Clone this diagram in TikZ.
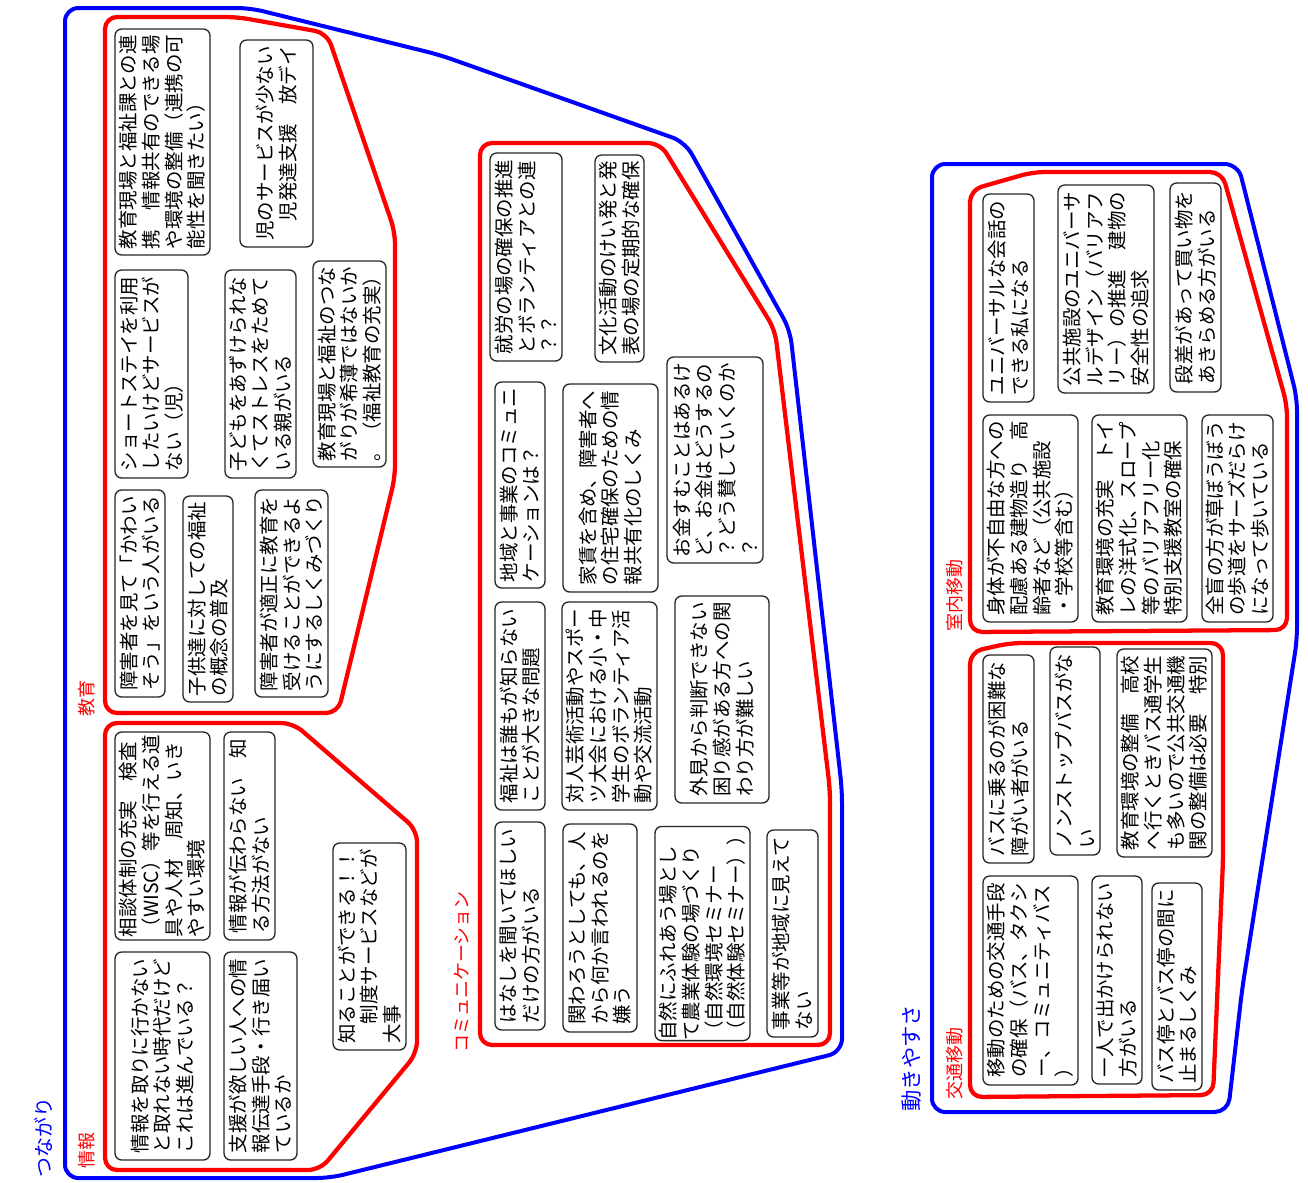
\documentclass[tikz,border=0pt]{standalone}
\usepackage{fontspec}
\newfontfamily\jp{Noto Sans CJK JP}
\tikzset{
  jb/.style={draw=black!85, line width=1pt, rounded corners=5pt, rotate=90, inner sep=0pt, align=left,
    font=\jp\fontsize{14.6pt}{17pt}\selectfont},
  redline/.style={draw=red, line width=3.2pt, rounded corners=9pt, line join=round},
  blueline/.style={draw=blue, line width=3pt, rounded corners=10pt, line join=round},
  rlab/.style={text=red, rotate=90, inner sep=0pt, font=\jp\fontsize{13.5pt}{14pt}\selectfont},
  blab/.style={text=blue, rotate=90, inner sep=0pt, font=\jp\fontsize{15pt}{15pt}\selectfont},
}
\newcommand\jbox[6]{\node[jb, minimum width={(#5-#3)*0.75pt}, minimum height={(#4-#2)*0.75pt}] (#1) at ({(#2+#4)/2},{(#3+#5)/2}) {#6};}
\begin{document}
\begin{tikzpicture}[x=0.75pt,y=-0.75pt]
\useasboundingbox[fill=white] (0,0) rectangle (1308,1182);

% outer groups
\draw[blueline] (65,1178) -- (65,8) -- (250,8) -- (440,55) -- (685,142) -- (790,330) -- (842,790) -- (842,1052) -- (330,1178) -- cycle;
\draw[blueline] (932,1112) -- (932,164) -- (1238,164) -- (1297,398) -- (1297,640) -- (1242,990) -- (1228,1112) -- cycle;

% inner groups
\draw[redline] (105,713) -- (105,17) -- (237,17) -- (327,33) -- (395,232) -- (395,477) -- (338,713) -- cycle;
\draw[redline] (105,1170) -- (105,723) -- (293,723) -- (417,830) -- (417,1053) -- (320,1170) -- cycle;
\draw[redline] (480,1045) -- (480,143) -- (660,143) -- (775,330) -- (830,790) -- (830,1045) -- cycle;
\draw[redline] (970,632) -- (970,190) -- (1033,172) -- (1222,172) -- (1287,405) -- (1287,630) -- cycle;
\draw[redline] (970,1097) -- (970,652) -- (1010,643) -- (1223,643) -- (1223,860) -- (1213,1095) -- cycle;

% labels
\node[blab] (lTsunagari) at (44,1137) {つながり};
\node[rlab] (lJoho) at (87,1150) {情報};
\node[rlab] (lKyoiku) at (87,698) {教育};
\node[rlab] (lComm) at (462,972) {コミュニケーション};
\node[rlab] (lShitsunai) at (955,595) {室内移動};
\node[rlab] (lKotsu) at (955,1063) {交通移動};
\node[blab, font=\jp\fontsize{16pt}{16pt}\selectfont] (lUgoki) at (912,1058) {動きやすさ};

% 教育
\jbox{A}{115}{29}{210}{255}{教育現場と福祉課との連\\携　情報共有のできる場\\や環境の整備（連携の可\\能性を聞きたい）}
\jbox{B}{240}{40}{313}{247}{児のサービスが少ない\\　児発達支援　放デイ}
\jbox{C}{115}{270}{188}{478}{ショートステイを利用\\したいけどサービスが\\ない（児）}
\jbox{D}{225}{270}{296}{478}{子どもをあずけられな\\くてストレスをためて\\いる親がいる}
\jbox{E}{313}{261}{386}{467}{教育現場と福祉のつな\\がりが希薄ではないか\\。（福祉教育の充実）}
\jbox{F}{115}{490}{165}{697}{障害者を見て「かわい\\そう」をいう人がいる}
\jbox{G}{183}{496}{233}{702}{子供達に対しての福祉\\の概念の普及}
\jbox{H}{255}{490}{328}{697}{障害者が適正に教育を\\受けることができるよ\\うにするしくみづくり}

% 情報
\jbox{I}{115}{732}{210}{940}{相談体制の充実　検査\\（WISC）等を行える道\\具や人材　周知、いき\\やすい環境}
\jbox{J}{224}{732}{275}{940}{情報が伝わらない　知\\る方法がない}
\jbox{K}{115}{952}{210}{1160}{情報を取りに行かない\\と取れない時代だけど\\これは進んでいる？}
\jbox{L}{224}{952}{297}{1160}{支援が欲しい人への情\\報伝達手段・行き届い\\ているか}
\jbox{M}{333}{843}{406}{1050}{知ることができる！！\\　制度サービスなどが\\大事}

% コミュニケーション
\jbox{N}{490}{153}{562}{361}{就労の場の確保の推進\\とボランティアとの連\\？？}
\jbox{O}{595}{155}{644}{362}{文化活動のけい発と発\\表の場の定期的な確保}
\jbox{P}{495}{382}{545}{588}{地域と事業のコミュニ\\ケーションは？}
\jbox{Q}{563}{384}{658}{592}{家賃を含め、障害者へ\\の住宅確保のための情\\報共有化のしくみ}
\jbox{R}{667}{357}{763}{563}{お金すむことはあるけ\\ど、お金はどうするの\\？どう賛していくのか\\？}
\jbox{S}{495}{602}{545}{810}{福祉は誰もが知らない\\ことが大きな問題}
\jbox{T}{562}{602}{657}{810}{対人芸術活動やスポー\\ツ大会における小・中\\学生のボランティア活\\動や交流活動}
\jbox{U}{675}{596}{769}{803}{外見から判断できない\\困り感がある方への関\\わり方が難しい}
\jbox{V}{495}{822}{545}{1030}{はなしを聞いてほしい\\だけの方がいる}
\jbox{W}{563}{824}{637}{1032}{関わろうとしても、人\\から何か言われるのを\\嫌う}
\jbox{X}{655}{830}{750}{1037}{自然にふれあう場とし\\て農業体験の場づくり\\（自然環境セミナー\\（自然体験セミナー））}
\jbox{Y}{767}{830}{818}{1037}{事業等が地域に見えて\\ない}

% 室内移動
\jbox{Z1}{983}{194}{1034}{402}{ユニバーサルな会話の\\できる私になる}
\jbox{Z2}{1058}{185}{1154}{393}{公共施設のユニバーサ\\ルデザイン（バリアフ\\リー）の推進　建物の\\安全性の追求}
\jbox{Z3}{1170}{183}{1221}{392}{段差があって買い物を\\あきらめる方がいる}
\jbox{Z4}{983}{415}{1078}{622}{身体が不自由な方への\\配慮ある建物造り　高\\齢者など（公共施設\\・学校等含む）}
\jbox{Z5}{1092}{415}{1187}{622}{教育環境の充実　トイ\\レの洋式化、スロープ\\等のバリアフリー化\\特別支援教室の確保}
\jbox{Z6}{1202}{415}{1273}{622}{全盲の方が草ぼうぼう\\の歩道をサーズだらけ\\になって歩いている}

% 交通移動
\jbox{T1}{983}{655}{1034}{863}{バスに乗るのが困難な\\障がい者がいる}
\jbox{T2}{1050}{647}{1100}{855}{ノンストップバスがな\\い}
\jbox{T3}{1117}{649}{1212}{857}{教育環境の整備　高校\\へ行くときバス通学生\\も多いので公共交通機\\関の整備は必要　特別}
\jbox{T4}{983}{876}{1078}{1085}{移動のための交通手段\\の確保（バス、タクシ\\ー、コミュニティバス\\）}
\jbox{T5}{1092}{876}{1142}{1084}{一人で出かけられない\\方がいる}
\jbox{T6}{1152}{883}{1202}{1090}{バス停とバス停の間に\\止まるしくみ}
\end{tikzpicture}
\end{document}
